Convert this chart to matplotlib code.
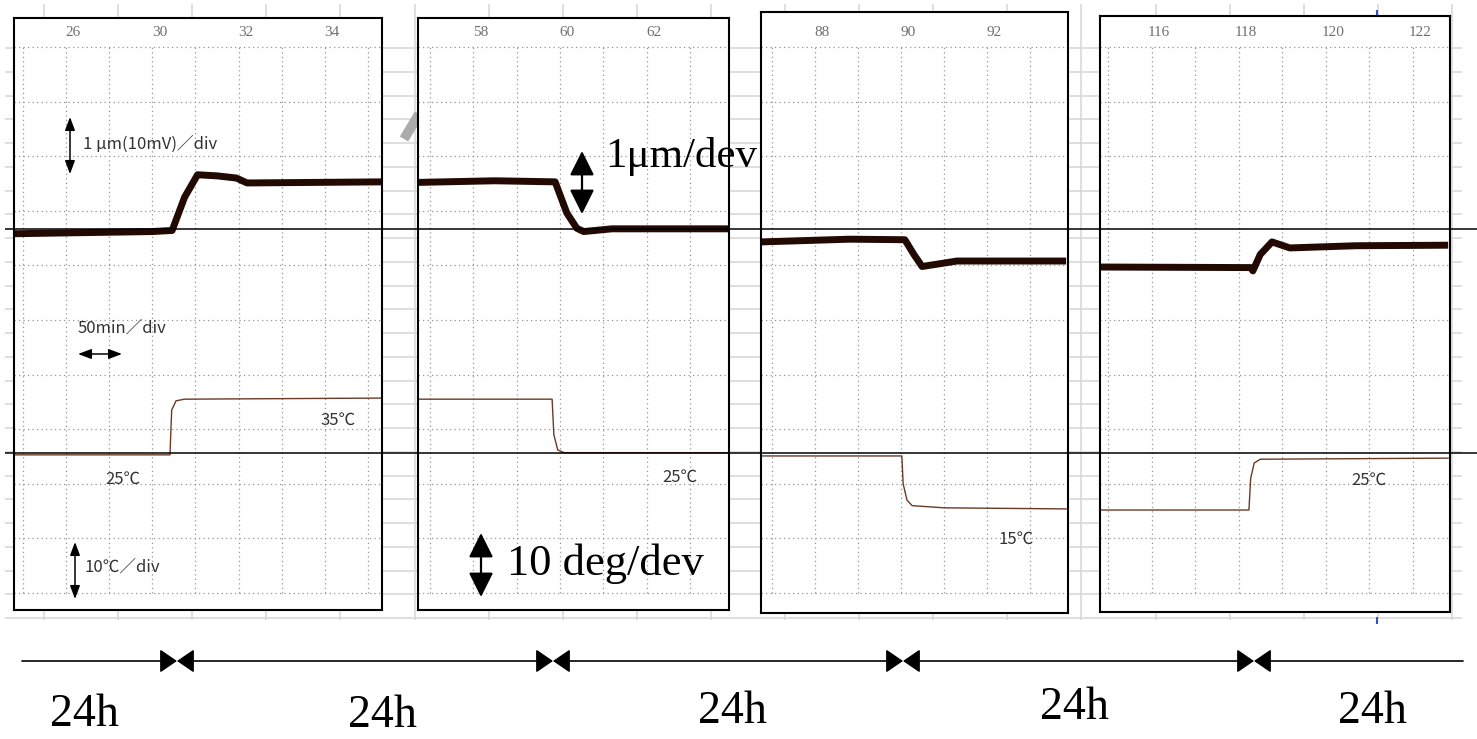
import numpy as np
import matplotlib
matplotlib.use("Agg")
import matplotlib.pyplot as plt

W, H = 1477, 739
CJK = ["Noto Sans CJK JP", "DejaVu Sans"]
SERIF = ["Liberation Serif", "DejaVu Serif"]

# recorder traces, units = chart divisions (x: 1 div = 50 min, y: 0 = bottom grid line)
p1_disp_t = [-0.21, 3.0, 3.46, 3.75, 4.05, 4.5, 4.95, 5.2, 8.33]
p1_disp_v = [6.58, 6.62, 6.64, 7.25, 7.66, 7.64, 7.6, 7.51, 7.53]
p1_temp_t = [-0.21, 3.41, 3.45, 3.55, 3.75, 8.33]
p1_temp_v = [2.53, 2.53, 3.35, 3.52, 3.55, 3.57]

p2_disp_t = [-0.28, 1.5, 2.89, 3.16, 3.39, 3.55, 4.2, 6.89]
p2_disp_v = [7.52, 7.55, 7.53, 6.96, 6.68, 6.62, 6.67, 6.67]
p2_temp_t = [-0.28, 2.82, 2.86, 2.95, 3.1, 6.89]
p2_temp_v = [3.55, 3.55, 2.9, 2.62, 2.57, 2.57]

p3_disp_t = [-0.26, 1.8, 3.09, 3.3, 3.49, 3.9, 4.3, 6.84]
p3_disp_v = [6.43, 6.48, 6.47, 6.2, 5.98, 6.03, 6.08, 6.08]
p3_temp_t = [-0.26, 3.02, 3.05, 3.14, 3.26, 4.0, 6.84]
p3_temp_v = [2.51, 2.51, 2.0, 1.7, 1.6, 1.56, 1.54]

p4_disp_t = [-0.18, 3.28, 3.33, 3.5, 3.77, 4.18, 5.7, 7.82]
p4_disp_v = [5.97, 5.96, 5.9, 6.2, 6.43, 6.32, 6.36, 6.37]
p4_temp_t = [-0.18, 3.24, 3.28, 3.36, 3.5, 7.82]
p4_temp_v = [1.52, 1.52, 2.1, 2.38, 2.45, 2.47]

p1_hours = ["26", "30", "32", "34"]
p2_hours = ["58", "60", "62"]
p3_hours = ["88", "90", "92"]
p4_hours = ["116", "118", "120", "122"]
hour_divs_4 = [1, 3, 5, 7]
hour_divs_3 = [1, 3, 5]

period_labels = ["24h", "24h", "24h", "24h", "24h"]

# panel boxes in pixels: left, top, right, bottom, first dotted line x, px per div, n verticals
panels = [
    dict(box=(14, 18, 382, 610), x0=23, dx=43.1, nv=9,
         disp=(p1_disp_t, p1_disp_v), temp=(p1_temp_t, p1_temp_v),
         hours=p1_hours, hdiv=hour_divs_4),
    dict(box=(418, 18, 729, 610), x0=430, dx=43.3, nv=7,
         disp=(p2_disp_t, p2_disp_v), temp=(p2_temp_t, p2_temp_v),
         hours=p2_hours, hdiv=hour_divs_3),
    dict(box=(761, 12, 1068, 613), x0=772, dx=43.0, nv=7,
         disp=(p3_disp_t, p3_disp_v), temp=(p3_temp_t, p3_temp_v),
         hours=p3_hours, hdiv=hour_divs_3),
    dict(box=(1100, 16, 1450, 612), x0=1108, dx=43.5, nv=8,
         disp=(p4_disp_t, p4_disp_v), temp=(p4_temp_t, p4_temp_v),
         hours=p4_hours, hdiv=hour_divs_4),
]
Y0, DY = 593, 54.6

fig = plt.figure(figsize=(W / 100, H / 100), dpi=100)
fig.patch.set_facecolor("white")

# spreadsheet background
bg = fig.add_axes([0, 0, 1, 1], zorder=0)
bg.set_xlim(0, W)
bg.set_ylim(H, 0)
bg.axis("off")
bg.vlines(44 + 74.1 * np.arange(20), 4, 620, color="#d6d6d6", lw=1.1)
bg.hlines(48 + 23.75 * np.arange(25), 5, 1462, color="#d6d6d6", lw=1.1)
bg.plot([404, 419], [139, 114], color="#ababab", lw=7, solid_capstyle="butt")
bg.vlines(1377, 10, 16, color="#3050d0", lw=1.5)
bg.vlines(1377, 617, 624, color="#3050d0", lw=1.5)

for p in panels:
    l, t, r, b = p["box"]
    ax = fig.add_axes([l / W, 1 - b / H, (r - l) / W, (b - t) / H], zorder=5)
    ax.set_facecolor("white")
    xl = ((l - p["x0"]) / p["dx"], (r - p["x0"]) / p["dx"])
    ax.set_xlim(*xl)
    ax.set_ylim((Y0 - b) / DY, (Y0 - t) / DY)
    ax.set_xticks([])
    ax.set_yticks([])
    for s in ax.spines.values():
        s.set_linewidth(1.5)
        s.set_color("black")
    ax.vlines(np.arange(p["nv"]), 0, 10, color="#959595", lw=0.9, linestyles=(0, (1, 2.6)))
    ax.hlines(np.arange(11), xl[0], xl[1], color="#959595", lw=0.9, linestyles=(0, (1, 2.6)))
    for lab, d in zip(p["hours"], p["hdiv"]):
        ax.text(d + 0.17, (Y0 - 32) / DY, lab, ha="center", va="center",
                fontsize=11, color="#707070", family=SERIF)
    ax.plot(*p["temp"], color="#6a3a26", lw=1.0, solid_joinstyle="round")
    ax.plot(*p["disp"], color="#220a03", lw=5.0, solid_joinstyle="round",
            solid_capstyle="butt")

# overlay: reference lines, annotations, time line
ov = fig.add_axes([0, 0, 1, 1], zorder=10)
ov.set_facecolor("none")
ov.set_xlim(0, W)
ov.set_ylim(H, 0)
ov.axis("off")
ov.hlines([229, 453], 5, W, color="black", lw=1.1)

small = dict(fontsize=12, color="#333333", family=CJK, va="center", ha="left")
ov.text(83, 144, "1 μm(10mV)／div", **small)
ov.text(78, 328, "50min／div", **small)
ov.text(105, 479, "25℃", **small)
ov.text(320, 420, "35℃", **small)
ov.text(85, 567, "10℃／div", **small)
ov.text(662, 477, "25℃", **small)
ov.text(999, 539, "15℃", **small)
ov.text(1351, 480, "25℃", **small)

small_arrow = dict(arrowstyle="<|-|>,head_length=0.8,head_width=0.3", color="black",
                   lw=1.1, shrinkA=0, shrinkB=0, mutation_scale=10)
ov.annotate("", xy=(70, 117), xytext=(70, 174), arrowprops=small_arrow)
ov.annotate("", xy=(78, 354), xytext=(122, 354), arrowprops=small_arrow)
ov.annotate("", xy=(75, 542), xytext=(75, 599), arrowprops=small_arrow)

big_arrow = dict(arrowstyle="<|-|>,head_length=1.0,head_width=0.5", color="black",
                 lw=1.6, shrinkA=0, shrinkB=0, mutation_scale=15)
ov.annotate("", xy=(582, 151), xytext=(582, 214), arrowprops=big_arrow)
ov.annotate("", xy=(481, 533), xytext=(481, 597), arrowprops=big_arrow)

ov.text(605, 167, "1μm/dev", fontsize=31, family=SERIF, va="baseline", ha="left")
ov.text(507, 575, "10 deg/dev", fontsize=32, family=SERIF, va="baseline", ha="left")

# time line with period junctions
junctions = [177, 553, 903, 1254]
ends = [22] + junctions + [1463]
for i in range(len(ends) - 1):
    style = "<|-|>"
    if i == 0:
        style = "-|>"
    elif i == len(ends) - 2:
        style = "<|-"
    ov.annotate("", xy=(ends[i + 1], 661), xytext=(ends[i], 661),
                arrowprops=dict(arrowstyle=style + ",head_length=0.7,head_width=0.48",
                                color="black", lw=1.2, shrinkA=0, shrinkB=0,
                                mutation_scale=15))

label_x = [84, 383, 733, 1074, 1373]
label_base = [726, 727, 723, 719, 723]
for lab, x, yb in zip(period_labels, label_x, label_base):
    ov.text(x, yb, lab, fontsize=33, family=SERIF, ha="center", va="baseline")

fig.savefig("out.png", dpi=100)
